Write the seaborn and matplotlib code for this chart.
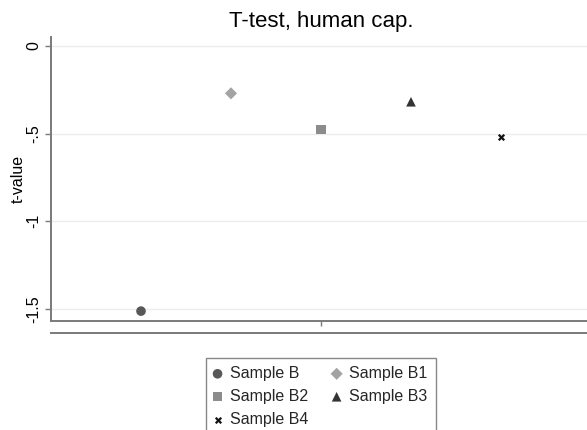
import numpy as np
import pandas as pd
import matplotlib
matplotlib.use("Agg")
import matplotlib.pyplot as plt
import seaborn as sns

# Estimated t-values per sample
samples = ["Sample B", "Sample B1", "Sample B2", "Sample B3", "Sample B4"]
t_values = [-1.512, -0.270, -0.475, -0.318, -0.517]
y_ticks = [0, -0.5, -1, -1.5]
y_tick_labels = ["0", "-.5", "-1", "-1.5"]

markers = {"Sample B": "o", "Sample B1": "D", "Sample B2": "s",
           "Sample B3": "^", "Sample B4": "x"}
colors = {"Sample B": "#585858", "Sample B1": "#a3a3a3", "Sample B2": "#8c8c8c",
          "Sample B3": "#333333", "Sample B4": "#111111"}
sizes = {"Sample B": 48, "Sample B1": 38, "Sample B2": 42,
         "Sample B3": 48, "Sample B4": 16}

df = pd.DataFrame({"sample": samples, "t": t_values,
                   "pos": np.arange(1, len(samples) + 1)})

sns.set_theme(style="white")
plt.rcParams["font.family"] = ["Liberation Sans", "DejaVu Sans"]

W, H = 587, 430
fig = plt.figure(figsize=(W / 100, H / 100), dpi=100)
ax = fig.add_axes([51 / W, 1 - 321 / H, 540 / W, (321 - 37) / H])

spine_col = "#7a7a7a"
for _, row in df.iterrows():
    name = row["sample"]
    kw = dict(edgecolor="none") if markers[name] != "x" else dict(linewidth=1.6)
    sns.scatterplot(data=df[df["sample"] == name], x="pos", y="t", ax=ax,
                    marker=markers[name], color=colors[name], s=sizes[name],
                    label=name, zorder=3, **kw)

ax.set_xlim(0, 6)
ax.set_ylim(-1.5684, 0.0513)
ax.set_yticks(y_ticks)
ax.set_yticklabels(y_tick_labels)
ax.set_xticks([3])
ax.set_xticklabels([])
ax.grid(axis="y", color="#ececec", linewidth=1.0)
ax.set_axisbelow(True)

for s in ["top", "right"]:
    ax.spines[s].set_visible(False)
for s in ["left", "bottom"]:
    ax.spines[s].set_color(spine_col)
    ax.spines[s].set_linewidth(1.4)

ax.tick_params(axis="y", left=True, length=4, width=1, color=spine_col,
               labelsize=11.5, labelcolor="black", pad=3, labelrotation=90)
for lab in ax.get_yticklabels():
    lab.set_va("center")
ax.tick_params(axis="x", bottom=True, length=3.5, width=1, color=spine_col)

ax.set_xlabel("")
ylab = ax.set_ylabel("t-value", fontsize=11.5, color="black")
ylab.set_va("center")
ax.yaxis.set_label_coords((18 - 51) / 540, 0.5)

# second baseline below the x axis
ax2 = ax.twiny()
for s in ["top", "right", "left"]:
    ax2.spines[s].set_visible(False)
ax2.spines["bottom"].set_visible(True)
ax2.spines["bottom"].set_position(("outward", 8.6))
ax2.spines["bottom"].set_color(spine_col)
ax2.spines["bottom"].set_linewidth(1.4)
ax2.tick_params(top=False, bottom=False, labeltop=False, labelbottom=False)
ax2.grid(False)

fig.text(321 / W, 1 - 21 / H, "T-test, human cap.", ha="center", va="center",
         fontsize=16, color="black")

handles, labels = ax.get_legend_handles_labels()
ax.get_legend().remove()
order = ["Sample B", "Sample B2", "Sample B4", "Sample B1", "Sample B3"]
hmap = dict(zip(labels, handles))
leg = fig.legend([hmap[k] for k in order], order, loc="upper center",
                 bbox_to_anchor=(321 / W, 1 - 358 / H), ncol=2,
                 frameon=True, fancybox=False, fontsize=11.5,
                 edgecolor="#6a6a6a", handlelength=0.4, handletextpad=0.6,
                 columnspacing=1.55, borderpad=0.5, labelspacing=0.5,
                 borderaxespad=0)
leg.get_frame().set_linewidth(1.0)

fig.savefig("out.png", dpi=100, facecolor="white")
